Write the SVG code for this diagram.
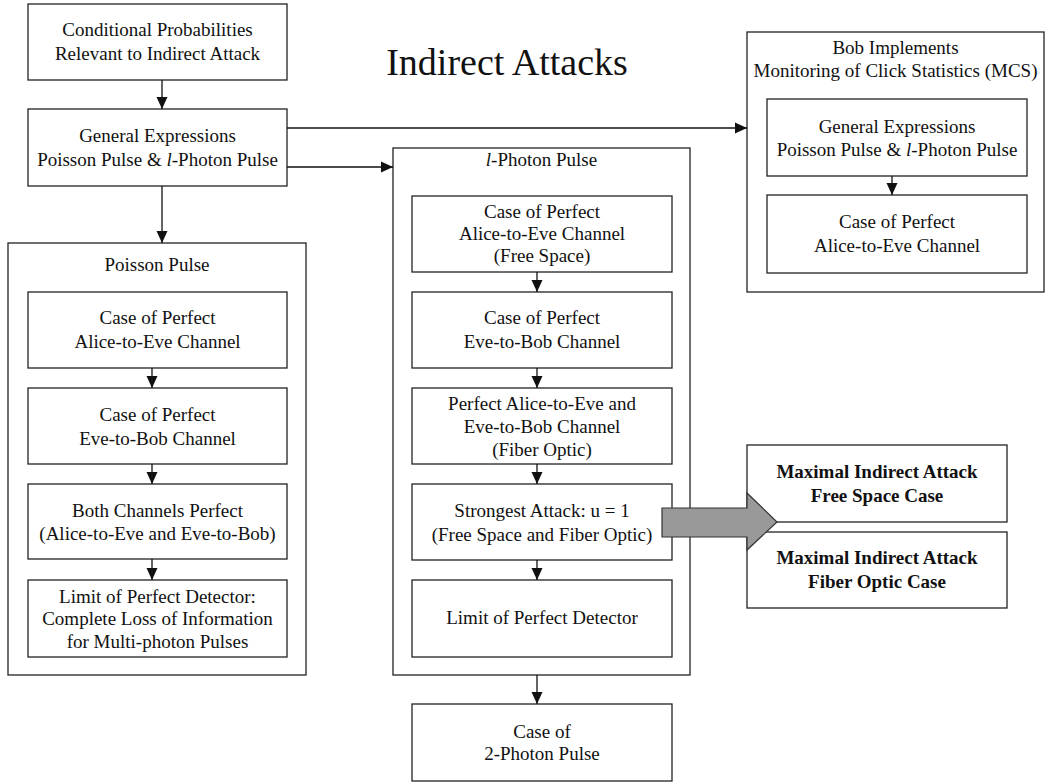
<svg xmlns="http://www.w3.org/2000/svg" width="1046" height="783" viewBox="0 0 1046 783">
<style>
.b{fill:#fff;stroke:#222;stroke-width:1.3}
.c{fill:none;stroke:#111;stroke-width:1.3}
text{font-family:"Liberation Serif","Times New Roman",serif;font-size:19px;fill:#111;text-anchor:middle}
.bold{font-weight:bold}
.title{font-size:38px}
</style>
<defs>
<marker id="ah" markerUnits="userSpaceOnUse" markerWidth="12" markerHeight="12" viewBox="0 0 12 12" refX="12" refY="6" orient="auto">
<path d="M0,0.5 L12,6 L0,11.5 z" fill="#111"/>
</marker>
</defs>
<rect width="1046" height="783" fill="#fff"/>
<text class="title" x="507" y="75">Indirect Attacks</text>

<g id="n-cond"><rect class="b" x="28" y="4" width="259" height="76"/>
<text x="157.5" y="36">Conditional Probabilities</text><text x="157.5" y="60">Relevant to Indirect Attack</text></g>

<g id="n-general"><rect class="b" x="28" y="109" width="259" height="77"/>
<text x="157.5" y="142">General Expressions</text><text x="157.5" y="166">Poisson Pulse &amp; <tspan font-style="italic">l</tspan>-Photon Pulse</text></g>

<g id="n-bob"><rect class="b" x="747" y="32" width="297" height="260"/>
<text x="895.5" y="54">Bob Implements</text><text x="895.5" y="77">Monitoring of Click Statistics (MCS)</text></g>
<g id="n-bob-general"><rect class="b" x="767" y="99" width="260" height="77"/>
<text x="897" y="132.5">General Expressions</text><text x="897" y="156">Poisson Pulse &amp; <tspan font-style="italic">l</tspan>-Photon Pulse</text></g>
<g id="n-bob-ae"><rect class="b" x="767" y="195" width="260" height="78"/>
<text x="897" y="228">Case of Perfect</text><text x="897" y="251.5">Alice-to-Eve Channel</text></g>

<g id="n-poisson"><rect class="b" x="8" y="243" width="298" height="432"/>
<text x="157" y="271">Poisson Pulse</text></g>
<g id="n-p1"><rect class="b" x="28" y="292" width="259" height="76"/>
<text x="157.5" y="324">Case of Perfect</text><text x="157.5" y="348">Alice-to-Eve Channel</text></g>
<g id="n-p2"><rect class="b" x="28" y="388" width="259" height="76"/>
<text x="157.5" y="421">Case of Perfect</text><text x="157.5" y="445">Eve-to-Bob Channel</text></g>
<g id="n-p3"><rect class="b" x="28" y="484" width="259" height="75"/>
<text x="157.5" y="516.5">Both Channels Perfect</text><text x="157.5" y="540">(Alice-to-Eve and Eve-to-Bob)</text></g>
<g id="n-p4"><rect class="b" x="28" y="580" width="259" height="77"/>
<text x="157.5" y="602.5">Limit of Perfect Detector:</text><text x="157.5" y="625">Complete Loss of Information</text><text x="157.5" y="647.5">for Multi-photon Pulses</text></g>

<g id="n-lphoton"><rect class="b" x="393" y="148" width="297" height="527"/>
<text x="541.5" y="166"><tspan font-style="italic">l</tspan>-Photon Pulse</text></g>
<g id="n-l1"><rect class="b" x="412" y="196" width="260" height="76"/>
<text x="542" y="218">Case of Perfect</text><text x="542" y="240">Alice-to-Eve Channel</text><text x="542" y="261.5">(Free Space)</text></g>
<g id="n-l2"><rect class="b" x="412" y="292" width="260" height="76"/>
<text x="542" y="324">Case of Perfect</text><text x="542" y="348">Eve-to-Bob Channel</text></g>
<g id="n-l3"><rect class="b" x="412" y="388" width="260" height="76"/>
<text x="542" y="410">Perfect Alice-to-Eve and</text><text x="542" y="433">Eve-to-Bob Channel</text><text x="542" y="456">(Fiber Optic)</text></g>
<g id="n-l4"><rect class="b" x="412" y="484" width="260" height="76"/>
<text x="542" y="516.5">Strongest Attack: u = 1</text><text x="542" y="540.5">(Free Space and Fiber Optic)</text></g>
<g id="n-l5"><rect class="b" x="412" y="580" width="260" height="77"/>
<text x="542" y="624">Limit of Perfect Detector</text></g>

<g id="n-two"><rect class="b" x="412" y="704" width="260" height="77"/>
<text x="542" y="738">Case of</text><text x="542" y="760">2-Photon Pulse</text></g>

<g id="n-max1"><rect class="b" x="747" y="445" width="260" height="77"/>
<text class="bold" x="877" y="478">Maximal Indirect Attack</text><text class="bold" x="877" y="501.5">Free Space Case</text></g>
<g id="n-max2"><rect class="b" x="747" y="532" width="260" height="76"/>
<text class="bold" x="877" y="564">Maximal Indirect Attack</text><text class="bold" x="877" y="588">Fiber Optic Case</text></g>

<g id="connectors">
<line class="c" x1="162" y1="80" x2="162" y2="109" marker-end="url(#ah)"/>
<line class="c" x1="287" y1="128" x2="747" y2="128" marker-end="url(#ah)"/>
<line class="c" x1="287" y1="167" x2="393" y2="167" marker-end="url(#ah)"/>
<line class="c" x1="162" y1="186" x2="162" y2="243" marker-end="url(#ah)"/>
<line class="c" x1="892" y1="176" x2="892" y2="195" marker-end="url(#ah)"/>
<line class="c" x1="152" y1="368" x2="152" y2="388" marker-end="url(#ah)"/>
<line class="c" x1="152" y1="464" x2="152" y2="484" marker-end="url(#ah)"/>
<line class="c" x1="152" y1="559" x2="152" y2="580" marker-end="url(#ah)"/>
<line class="c" x1="537" y1="272" x2="537" y2="292" marker-end="url(#ah)"/>
<line class="c" x1="537" y1="368" x2="537" y2="388" marker-end="url(#ah)"/>
<line class="c" x1="537" y1="464" x2="537" y2="484" marker-end="url(#ah)"/>
<line class="c" x1="537" y1="560" x2="537" y2="580" marker-end="url(#ah)"/>
<line class="c" x1="537" y1="675" x2="537" y2="704" marker-end="url(#ah)"/>
<polygon points="662,508 747,508 747,493 777,522 747,550 747,537 662,537" fill="#999" stroke="#333" stroke-width="1.2"/>
</g>
</svg>
